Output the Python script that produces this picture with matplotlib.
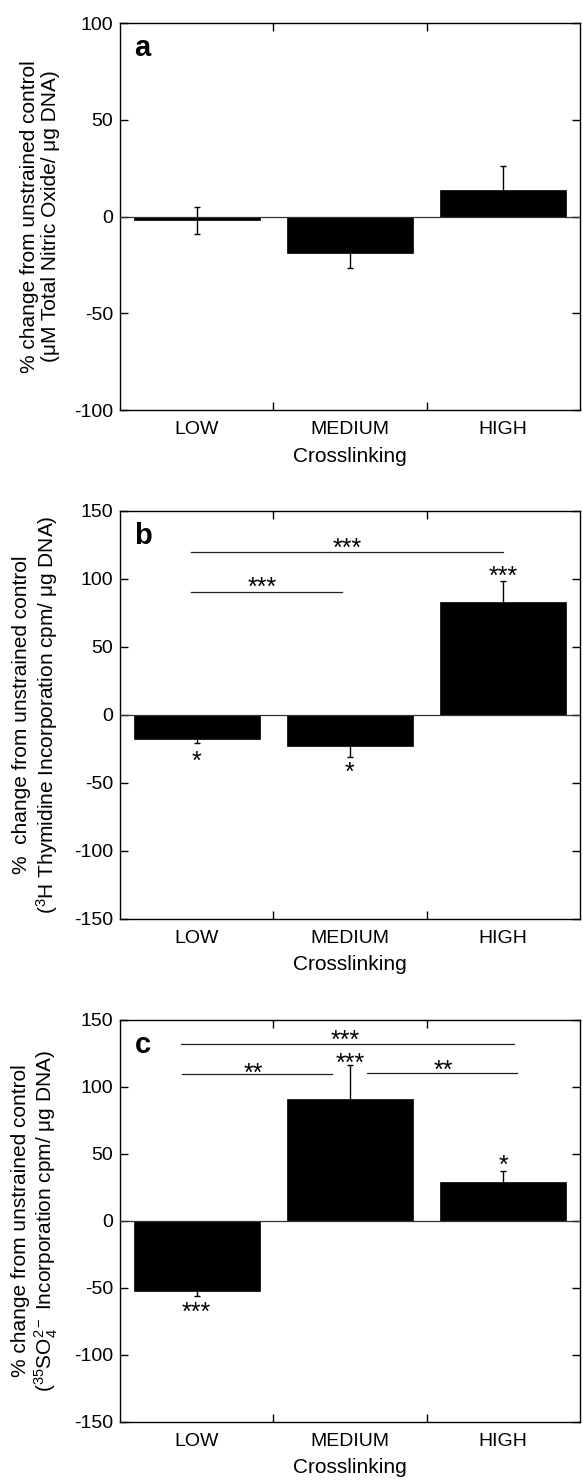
import numpy as np
import matplotlib
matplotlib.use("Agg")
import matplotlib.pyplot as plt

plt.rcParams['font.family'] = ['Liberation Sans', 'DejaVu Sans']
plt.rcParams['mathtext.fontset'] = 'custom'
plt.rcParams['mathtext.rm'] = 'Liberation Sans'
plt.rcParams['mathtext.it'] = 'Liberation Sans:italic'
plt.rcParams['mathtext.bf'] = 'Liberation Sans:bold'
plt.rcParams['axes.unicode_minus'] = False

# data
categories = ['LOW', 'MEDIUM', 'HIGH']

no_mean = [-2, -19, 13.5]
no_err = [7, 7.5, 12.5]

thy_mean = [-17.5, -23, 83]
thy_err = [3, 8, 15.5]

so4_mean = [-52, 91, 29]
so4_err = [4, 25, 8]

# stars on bars: (x, y, text)
thy_stars = [(0, -29.5, '*'), (1, -37.5, '*'), (2, 107, '***')]
so4_stars = [(0, -63.5, '***'), (1, 122.5, '***'), (2, 46, '*')]

# comparison lines: (x0, x1, y, text, text_x, text_y)
thy_lines = [(-0.04, 2.0, 120, '***', 0.98, 127),
             (-0.04, 0.95, 90.4, '***', 0.43, 98.5)]
so4_lines = [(-0.10, 2.07, 132, '***', 0.97, 139.5),
             (-0.095, 0.88, 109.7, '**', 0.37, 115),
             (1.11, 2.09, 110.4, '**', 1.61, 117)]

ylabels = [
    '% change from unstrained control\n(μM Total Nitric Oxide/ μg DNA)',
    '%  change from unstrained control\n($^{3}$H Thymidine Incorporation cpm/ μg DNA)',
    '% change from unstrained control\n($^{35}$SO$_{4}^{2-}$ Incorporation cpm/ μg DNA)',
]

fig = plt.figure(figsize=(5.83, 14.82), dpi=100)
ax_a = fig.add_axes([0.2058, 0.7233, 0.789, 0.2611])
ax_b = fig.add_axes([0.2058, 0.3799, 0.789, 0.2753])
ax_c = fig.add_axes([0.2058, 0.0405, 0.789, 0.2713])

x = np.arange(len(categories))


def draw_panel(ax, mean, err, lim, letter, ylabel, stars, lines):
    ax.errorbar(x, mean, yerr=err, fmt='none', ecolor='black', elinewidth=1.0,
                capsize=2.5, capthick=1.0, zorder=1)
    ax.bar(x, mean, width=0.82, color='black', edgecolor='black',
           linewidth=0.5, zorder=2)
    ax.axhline(0, color='#333333', linewidth=0.9, zorder=3)
    ax.set_xlim(-0.5, 2.5)
    ax.set_ylim(-lim, lim)
    ax.set_yticks(np.arange(-lim, lim + 1, 50))
    ax.set_xticks(x)
    ax.set_xticklabels(categories, fontsize=14)
    ax.set_xticks([0.5, 1.5], minor=True)
    ax.tick_params(axis='x', which='major', length=0, pad=8)
    ax.tick_params(axis='x', which='minor', direction='in', length=6,
                   width=1.0, top=True, bottom=True)
    ax.tick_params(axis='y', direction='in', length=6, width=1.0,
                   right=True, labelsize=14, pad=5)
    for s in ax.spines.values():
        s.set_linewidth(1.0)
    ax.set_xlabel('Crosslinking', fontsize=15, labelpad=6)
    ax.set_ylabel(ylabel, fontsize=15, linespacing=1.15)
    ax.yaxis.set_label_coords(-0.13, 0.5)
    ax.annotate(letter, xy=(0, 1), xycoords='axes fraction',
                xytext=(10.5, -24), textcoords='offset points',
                fontsize=21, fontweight='bold', ha='left', va='baseline')
    for sx, sy, st in stars:
        ax.annotate(st, xy=(sx, sy), xytext=(0, -10), textcoords='offset points',
                    ha='center', va='baseline', fontsize=18)
    for x0, x1, ly, lt, tx, ty in lines:
        ax.plot([x0, x1], [ly, ly], color='#222222', linewidth=0.9)
        ax.annotate(lt, xy=(tx, ty), xytext=(0, -10), textcoords='offset points',
                    ha='center', va='baseline', fontsize=18)


draw_panel(ax_a, no_mean, no_err, 100, 'a', ylabels[0], [], [])
draw_panel(ax_b, thy_mean, thy_err, 150, 'b', ylabels[1], thy_stars, thy_lines)
draw_panel(ax_c, so4_mean, so4_err, 150, 'c', ylabels[2], so4_stars, so4_lines)

fig.savefig('out.png', dpi=100)
